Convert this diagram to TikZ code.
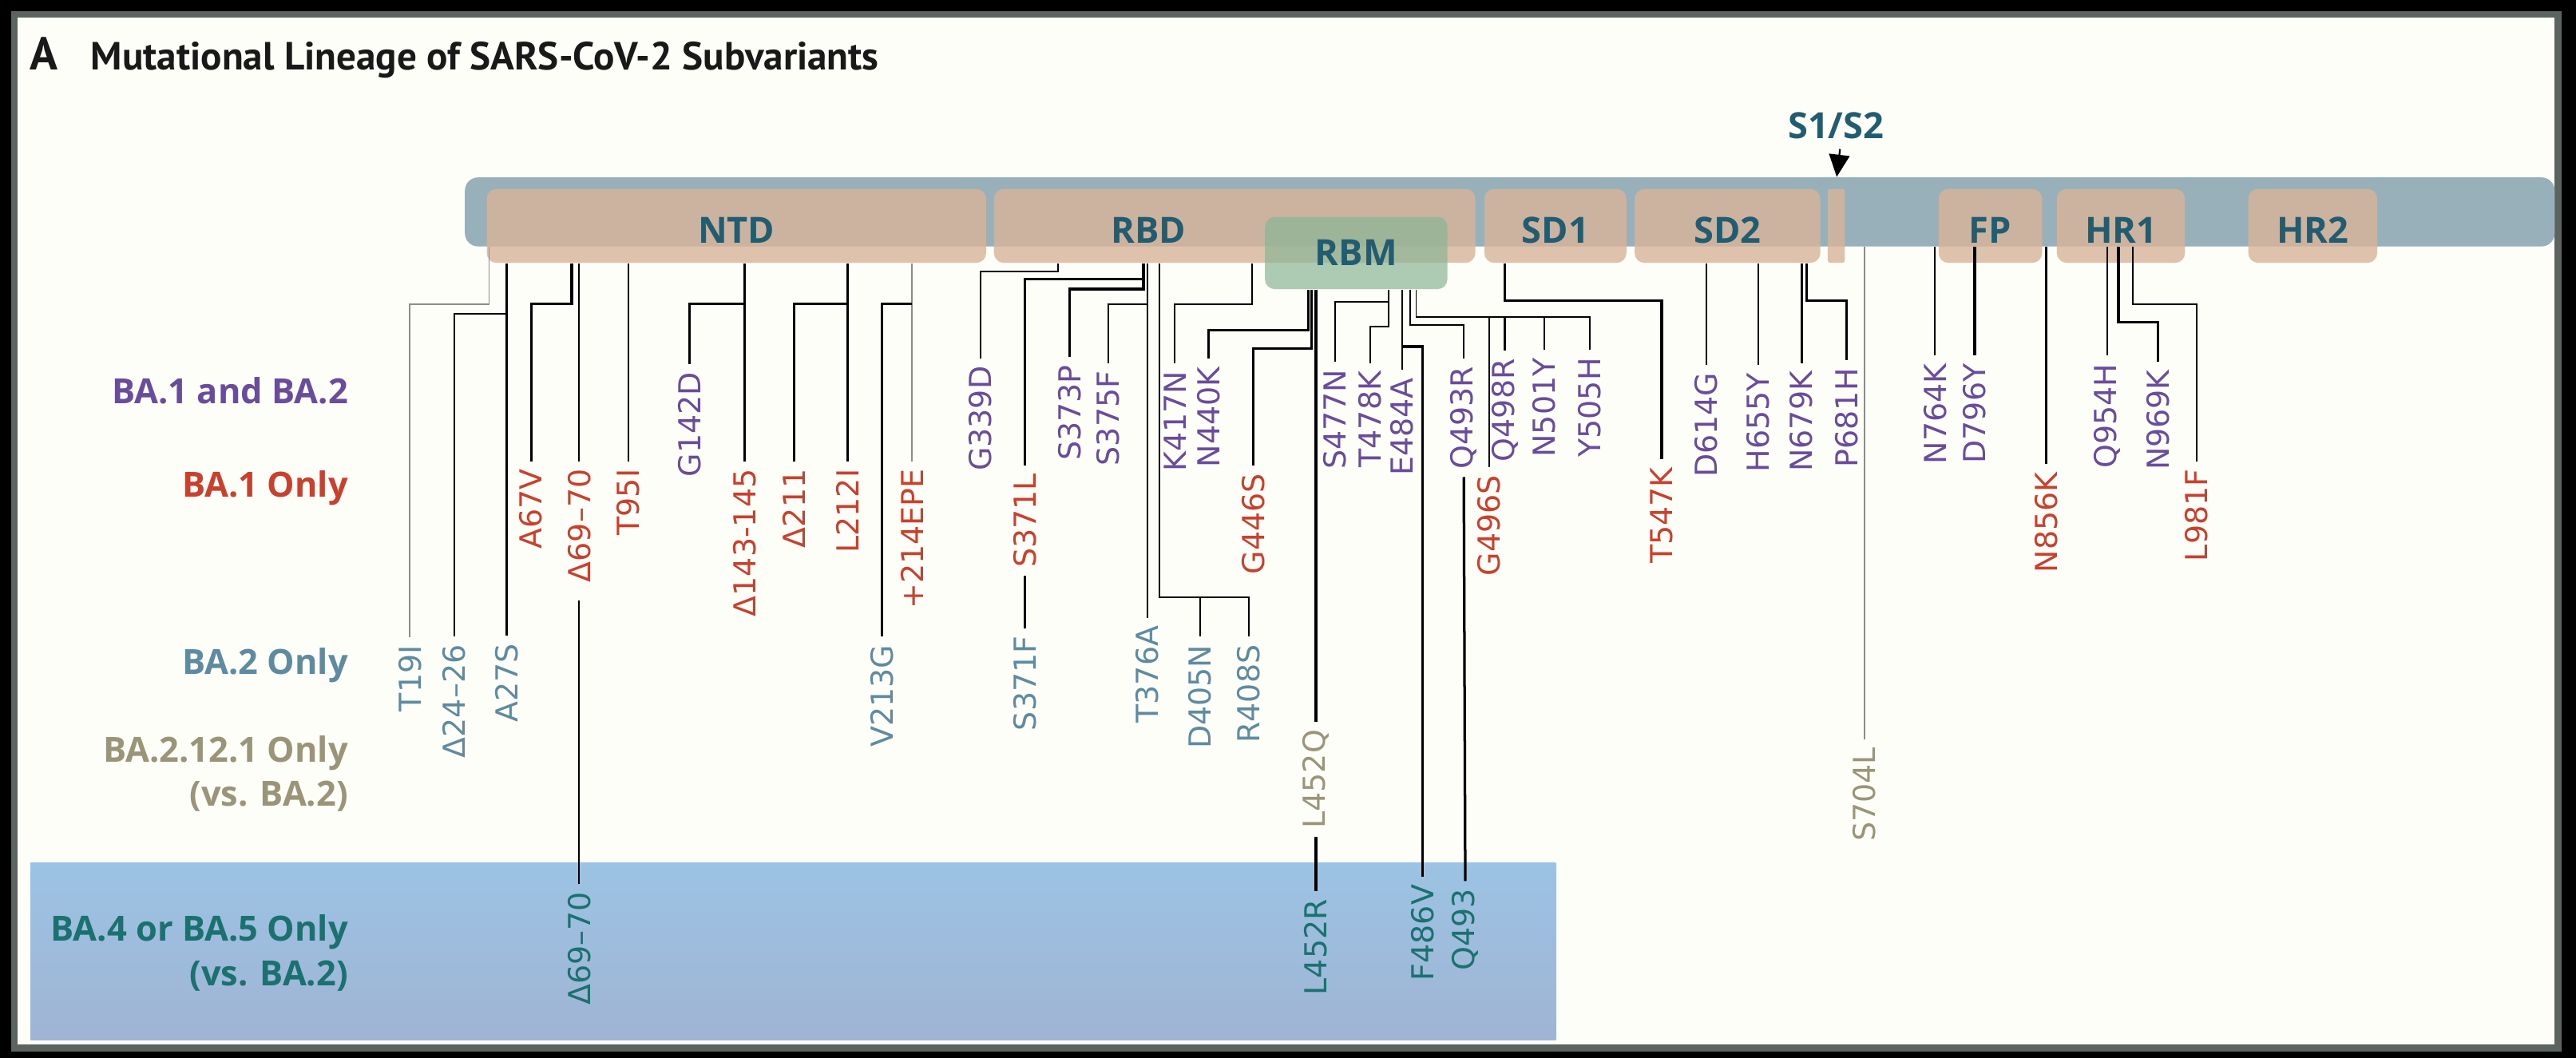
\documentclass[tikz,border=0pt]{standalone}
\usepackage{fontspec}
\setmainfont{DejaVu Sans}
\newfontfamily\headfont{Open Sans}
\newfontfamily\titlefont{PT Sans}
\usetikzlibrary{arrows.meta}
\definecolor{panelbg}{RGB}{254,254,248}
\definecolor{panelrim}{RGB}{92,100,96}
\definecolor{barblue}{RGB}{151,176,186}
\definecolor{domsalmon}{RGB}{216,180,154}
\definecolor{rbmgreen}{RGB}{140,181,149}
\definecolor{domteal}{RGB}{33,92,112}
\definecolor{mutpurple}{RGB}{106,76,156}
\definecolor{mutred}{RGB}{200,65,47}
\definecolor{mutslate}{RGB}{94,139,160}
\definecolor{mutkhaki}{RGB}{154,148,120}
\definecolor{mutteal}{RGB}{27,112,112}
\definecolor{boxtop}{RGB}{156,195,228}
\definecolor{boxbot}{RGB}{160,180,212}
\tikzset{
  dom/.style={rectangle, rounded corners=1.2mm, fill=domsalmon, fill opacity=0.8, minimum height=9mm, inner sep=0pt},
  domtext/.style={font=\headfont\bfseries\fontsize{12.5}{14}\selectfont, text=domteal, text opacity=1},
  mut/.style={rotate=90, anchor=east, inner sep=2.6pt, font=\fontsize{10.5}{12}\selectfont},
  grp/.style={anchor=east, align=right, font=\headfont\bfseries\fontsize{12}{15.4}\selectfont},
  lin/.style={line width=0.55pt},
  thk/.style={line width=0.9pt},
  gry/.style={line width=0.5pt, draw=black!45},
}

\begin{document}
\begin{tikzpicture}[x=0.2mm, y=-0.2mm]
\useasboundingbox (0,0) rectangle (1568,644);
% Background
\fill[black] (0,0) rectangle (1568,644);
\draw[fill=panelbg, draw=panelrim, line width=2.3pt] (8.8,8.8) rectangle (1557,638);

% Title
\node[anchor=base west, inner sep=0pt, text=black!90, font=\titlefont\bfseries\fontsize{16}{18}\selectfont] (TA) at (18,42.5) {A};
\node[anchor=base west, inner sep=0pt, text=black!90, font=\titlefont\bfseries\fontsize{13.6}{16}\selectfont] (TT) at (55,42.5) {Mutational Lineage of SARS-CoV-2 Subvariants};

% BA.4 / BA.5 band
\shade[top color=boxtop, bottom color=boxbot] (18.5,525) rectangle (947,633);

% Spike protein
\node[rectangle, rounded corners=1.6mm, fill=barblue, minimum width=254.4mm, minimum height=8.4mm, inner sep=0pt] (S) at (919,129) {};
\node[dom, minimum width=60.8mm, label={[domtext, yshift=-0.5mm]center:NTD}] (NTD) at (448.25,137.5) {};
\node[dom, minimum width=58.6mm, label={[domtext, xshift=-10.5mm, yshift=-0.5mm]center:RBD}] (RBD) at (751.5,137.5) {};
\node[dom, minimum width=17.3mm, label={[domtext, yshift=-0.5mm]center:SD1}] (SD1) at (946.75,137.5) {};
\node[dom, minimum width=22.6mm, label={[domtext, yshift=-0.5mm]center:SD2}] (SD2) at (1051.5,137.5) {};
\node[dom, minimum width=2.1mm, rounded corners=0.3mm] (CS) at (1117.75,137.5) {};
\node[dom, minimum width=12.6mm, label={[domtext, yshift=-0.5mm]center:FP}] (FP) at (1211.5,137.5) {};
\node[dom, minimum width=15.6mm, label={[domtext, yshift=-0.5mm]center:HR1}] (HR1) at (1291,137.5) {};
\node[dom, minimum width=15.7mm, label={[domtext, yshift=-0.5mm]center:HR2}] (HR2) at (1407.75,137.5) {};
\node[dom, fill=rbmgreen, fill opacity=0.7, minimum width=22.2mm, minimum height=8.8mm, label={[domtext]center:RBM}] (RBM) at (825.5,154) {};
\node[domtext] (S1S2) at (1117.5,76.5) {S1/S2};
\draw[line width=0.6pt, -{Triangle[length=2.7mm, width=2.5mm]}] ([xshift=0.5mm]S1S2.south) -- (1118,0 |- S.north);

% Groups
\node[grp, text=mutpurple] (G1) at (218,238) {BA.1 and BA.2};
\node[grp, text=mutred] (G2) at (218,297) {BA.1 Only};
\node[grp, text=mutslate] (G3) at (218,405) {BA.2 Only};
\node[grp, text=mutkhaki] (G4) at (218,471) {BA.2.12.1 Only\\(vs. BA.2)};
\node[grp, text=mutteal] (G5) at (218,580) {BA.4 or BA.5 Only\\(vs. BA.2)};

% NTD
\node[mut, text=mutslate] (T19I) at (249.5,388) {T19I};
\node[mut, text=mutslate] (D24) at (276.6,387.6) {Δ24–26};
\node[mut, text=mutslate] (A27S) at (308.5,387) {A27S};
\node[mut, text=mutred] (A67V) at (323.3,280.7) {A67V};
\node[mut, text=mutred] (D69) at (352.6,280.7) {Δ69–70};
\node[mut, text=mutred] (T95I) at (382.3,280.7) {T95I};
\node[mut, text=mutpurple] (G142D) at (419.8,221.7) {G142D};
\node[mut, text=mutred] (D143) at (453.3,280.7) {Δ143-145};
\node[mut, text=mutred] (D211) at (483.2,280.7) {Δ211};
\node[mut, text=mutred] (L212I) at (515.8,280.7) {L212I};
\node[mut, text=mutred] (I214) at (555.2,280.7) {+214EPE};
\node[mut, text=mutslate] (V213G) at (537,387.6) {V213G};
\node[mut, text=mutteal] (D69b) at (352.6,538) {Δ69–70};

% RBD
\node[mut, text=mutpurple] (G339D) at (596.7,218) {G339D};
\node[mut, text=mutred] (S371L) at (624,283.4) {S371L};
\node[mut, text=mutslate] (S371F) at (624,382.3) {S371F};
\node[mut, text=mutpurple] (S373P) at (651,217.4) {S373P};
\node[mut, text=mutpurple] (S375F) at (674.4,221) {S375F};
\node[mut, text=mutslate] (T376A) at (698.5,376) {T376A};
\node[mut, text=mutslate] (D405N) at (730.6,387.6) {D405N};
\node[mut, text=mutslate] (R408S) at (760,387.6) {R408S};
\node[mut, text=mutpurple] (K417N) at (715.2,221) {K417N};
\node[mut, text=mutpurple] (N440K) at (735.6,218.3) {N440K};
\node[mut, text=mutred] (G446S) at (762.7,283.4) {G446S};
\node[mut, text=mutkhaki] (L452Q) at (801,439.3) {L452Q};
\node[mut, text=mutteal] (L452R) at (801,542.5) {L452R};
\node[mut, text=mutpurple] (S477N) at (812.5,220) {S477N};
\node[mut, text=mutpurple] (T478K) at (834,221) {T478K};
\node[mut, text=mutpurple] (E484A) at (853.3,225) {E484A};
\node[mut, text=mutteal] (F486V) at (866,533.6) {F486V};
\node[mut, text=mutpurple] (Q493R) at (891,218) {Q493R};
\node[mut, text=mutteal] (Q493) at (891.9,536.3) {Q493};
\node[mut, text=mutred] (G496S) at (906.4,284.4) {G496S};
\node[mut, text=mutpurple] (Q498R) at (916,213.5) {Q498R};
\node[mut, text=mutpurple] (N501Y) at (939.8,213) {N501Y};
\node[mut, text=mutpurple] (Y505H) at (967.7,213) {Y505H};

% SD1, SD2, S2
\node[mut, text=mutred] (T547K) at (1011.4,279.5) {T547K};
\node[mut, text=mutpurple] (D614G) at (1038.6,222) {D614G};
\node[mut, text=mutpurple] (H655Y) at (1070.3,222) {H655Y};
\node[mut, text=mutpurple] (N679K) at (1096.6,221) {N679K};
\node[mut, text=mutpurple] (P681H) at (1123.9,219.3) {P681H};
\node[mut, text=mutkhaki] (S704L) at (1135,450) {S704L};
\node[mut, text=mutpurple] (N764K) at (1177.8,216.5) {N764K};
\node[mut, text=mutpurple] (D796Y) at (1202,216.5) {D796Y};
\node[mut, text=mutred] (N856K) at (1245.4,282.5) {N856K};
\node[mut, text=mutpurple] (Q954H) at (1282.6,216.5) {Q954H};
\node[mut, text=mutpurple] (N969K) at (1313.6,220.2) {N969K};
\node[mut, text=mutred] (L981F) at (1337,280.7) {L981F};

% Connections
\draw[gry] (297.7,0 |- S.south) -- (297.7,185) -| (T19I.east);
\draw[thk] (A27S.east |- NTD.south) -- (A27S.east);
\draw[lin] (A27S.east |- 0,191) -| (D24.east);
\draw[thk] (348,0 |- NTD.south) -- (348,185) -| (A67V.east);
\draw[lin] (D69.east |- NTD.south) -- (D69.east);
\draw[lin] (T95I.east |- NTD.south) -- (T95I.east);
\draw[thk] (D143.east |- NTD.south) -- (D143.east);
\draw[thk] (D143.east |- 0,185) -| (G142D.east);
\draw[thk] (L212I.east |- NTD.south) -- (L212I.east);
\draw[thk] (L212I.east |- 0,185) -| (D211.east);
\draw[gry] (I214.east |- NTD.south) -- (I214.east);
\draw[thk] (I214.east |- 0,185) -| (V213G.east);
\draw[lin, shorten <=1.2mm] (D69.west) -- (D69b.east);

\draw[lin] (644,0 |- RBD.south) -- (644,165.3) -| (G339D.east);
\draw[thk] (696,0 |- RBD.south) -- (696,176) -| (S373P.east);
\draw[thk] (696,170) -| (S371L.east);
\draw[lin] (T376A.east |- RBD.south) -- (T376A.east);
\draw[lin] (T376A.east |- 0,185) -| (S375F.east);
\draw[thk] (S371L.west) -- (S371F.east);
\draw[lin] (705.5,0 |- RBD.south) -- (705.5,363.5) -| (R408S.east);
\draw[lin] (D405N.east |- 0,363.5) -- (D405N.east);
\draw[lin] (762,0 |- RBD.south) -- (762,185) -| (K417N.east);
\draw[thk] (796.5,0 |- RBM.south) -- (796.5,200.8) -| (N440K.east);
\draw[thk] (798.5,0 |- RBM.south) -- (798.5,212) -| (G446S.east);
\draw[thk] (L452Q.east |- RBM.south) -- (L452Q.east);
\draw[thk] (L452Q.west) -- (L452R.east);
\draw[lin] (845,0 |- RBM.south) -- (845,199) -| (T478K.east);
\draw[lin] (845,183.5) -| (S477N.east);
\draw[lin] (E484A.east |- RBM.south) -- (E484A.east);
\draw[thk] (E484A.east |- 0,210.9) -| (F486V.east);
\draw[lin] (858.5,0 |- RBM.south) -- (858.5,198) -| (Q493R.east);
\draw[thk] (Q493R.west) -- (Q493.east);
\draw[lin] (862,0 |- RBM.south) -- (862,193) -| (Y505H.east);
\draw[lin] (G496S.east |- 0,193) -- (G496S.east);
\draw[thk] (Q498R.east |- 0,193) -- (Q498R.east);
\draw[lin] (N501Y.east |- 0,193) -- (N501Y.east);

\draw[thk] (916,0 |- SD1.south) -- (916,183) -| (T547K.east);
\draw[lin] (D614G.east |- SD2.south) -- (D614G.east);
\draw[lin] (H655Y.east |- SD2.south) -- (H655Y.east);
\draw[thk] (N679K.east |- SD2.south) -- (N679K.east);
\draw[thk] (1099.7,0 |- SD2.south) -- (1099.7,183) -| (P681H.east);
\draw[gry] (S704L.east |- S.south) -- (S704L.east);
\draw[lin] (N764K.east |- S.south) -- (N764K.east);
\draw[thk] (D796Y.east |- S.south) -- (D796Y.east);
\draw[thk] (N856K.east |- S.south) -- (N856K.east);
\draw[lin] (Q954H.east |- S.south) -- (Q954H.east);
\draw[thk] (1289.5,0 |- S.south) -- (1289.5,196) -| (N969K.east);
\draw[lin] (1298,0 |- S.south) -- (1298,185) -| (L981F.east);
\end{tikzpicture}
\end{document}
